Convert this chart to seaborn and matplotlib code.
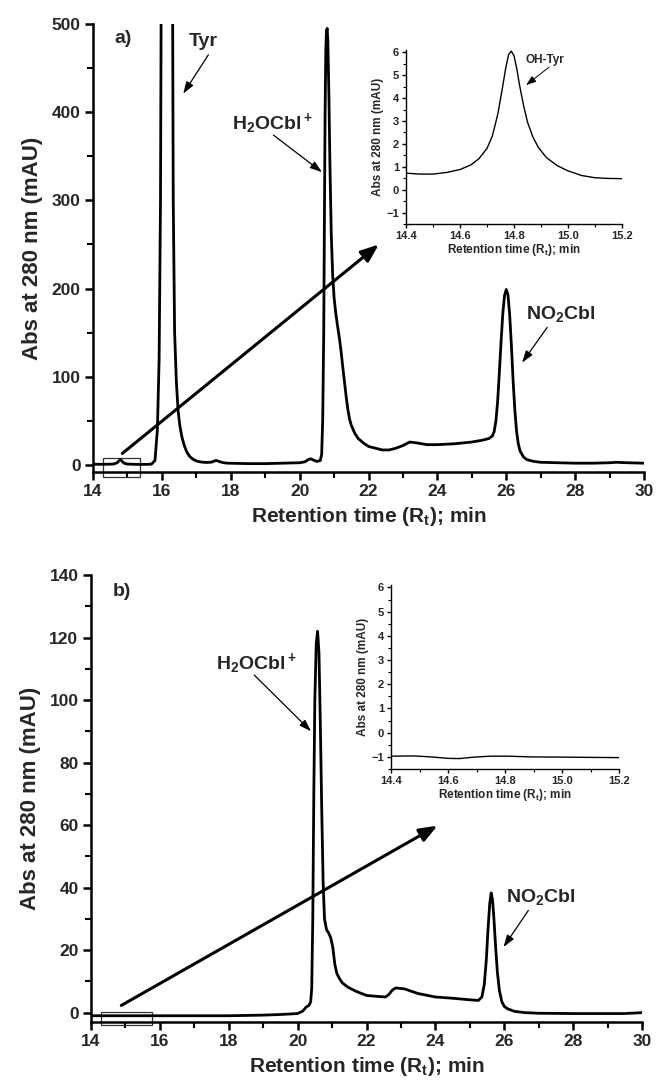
import numpy as np
import pandas as pd
import matplotlib
matplotlib.use("Agg")
import matplotlib.pyplot as plt
import seaborn as sns
from matplotlib.patches import Rectangle

# ---------------- data ----------------
t_a = [14.0, 14.3, 14.6, 14.7, 14.75, 14.8, 14.85, 14.9, 15.0, 15.3, 15.6, 15.7, 15.8, 15.87, 15.92, 15.96,
       16.15, 16.33, 16.37, 16.42, 16.47, 16.52, 16.58, 16.65, 16.72, 16.8, 16.9, 17.0, 17.15, 17.3,
       17.45, 17.52, 17.58, 17.65, 17.75, 17.9, 18.5, 19.0, 19.5, 20.0, 20.15, 20.25, 20.32, 20.4, 20.5,
       20.6, 20.64, 20.67, 20.7, 20.72, 20.74, 20.76, 20.78, 20.8, 20.82, 20.85, 20.88, 20.92, 20.96,
       21.0, 21.05, 21.1, 21.15, 21.2, 21.25, 21.3, 21.35, 21.4, 21.45, 21.5, 21.6, 21.7, 21.85, 22.0,
       22.2, 22.4, 22.6, 22.8, 23.0, 23.2, 23.4, 23.7, 24.0, 24.5, 25.0, 25.3, 25.5, 25.6, 25.65, 25.7,
       25.75, 25.8, 25.85, 25.9, 25.95, 26.0, 26.05, 26.1, 26.15, 26.2, 26.25, 26.3, 26.35, 26.4, 26.5,
       26.6, 26.8, 27.0, 27.5, 28.0, 28.5, 29.0, 29.2, 29.5, 30.0]
abs_a = [0.8, 0.7, 1.0, 2.5, 4.5, 6.0, 4.0, 2.0, 1.0, 0.6, 0.7, 1.0, 5.0, 40, 120, 300,
         2500, 300, 150, 95, 62, 45, 32, 22, 15, 10, 6.5, 4.5, 3.2, 2.8,
         3.2, 4.5, 5.0, 4.2, 2.8, 2.0, 1.5, 1.5, 2.0, 2.5, 3.5, 6.0, 7.0, 5.5, 4.0,
         5.0, 12, 50, 150, 280, 400, 470, 492, 495, 480, 420, 340, 260, 215,
         190, 172, 158, 145, 130, 112, 95, 78, 63, 52, 45, 36, 30, 25, 21,
         19, 17, 17, 19, 22, 26, 25, 23, 23, 24, 26, 28, 30, 33, 38, 50,
         72, 105, 140, 172, 192, 199, 193, 170, 135, 95, 62, 38, 24, 16, 9,
         6, 4, 3, 2.5, 2, 2, 2.5, 3, 2.5, 2]

t_b = [14.0, 15.0, 16.0, 17.0, 18.0, 19.0, 19.5, 20.0, 20.15, 20.25, 20.33, 20.38, 20.41, 20.44, 20.47,
       20.5, 20.54, 20.58, 20.62, 20.66, 20.7, 20.74, 20.78, 20.84, 20.9, 20.96, 21.02, 21.08, 21.14,
       21.22, 21.3, 21.45, 21.7, 22.0, 22.3, 22.55, 22.65, 22.75, 22.85, 23.1, 23.5, 24.0, 24.5, 25.0,
       25.25, 25.35, 25.42, 25.48, 25.53, 25.58, 25.62, 25.66, 25.7, 25.75, 25.8, 25.86, 25.93, 26.0,
       26.1, 26.3, 26.6, 27.0, 28.0, 29.0, 29.5, 30.0]
abs_b = [-1.0, -1.0, -1.0, -1.0, -1.0, -0.8, -0.6, -0.3, 0.5, 1.8, 2.3, 3.5, 8, 30, 70,
         100, 118, 122, 115, 92, 65, 42, 30, 26.5, 25.5, 24, 21, 15.5, 12.5,
         10.8, 9.5, 8.2, 6.8, 5.5, 5.2, 5.0, 5.8, 7.2, 7.9, 7.6, 6.1, 5.0, 4.6, 4.1,
         3.9, 5.0, 9, 17, 27, 35, 38.3, 36, 30, 21, 13, 7, 3.5, 2.0,
         1.2, 0.4, 0.0, -0.2, -0.3, -0.3, -0.3, 0.0]

t_ia = [14.4, 14.45, 14.5, 14.55, 14.6, 14.64, 14.67, 14.7, 14.72, 14.74, 14.755, 14.77, 14.78, 14.79,
        14.8, 14.81, 14.82, 14.835, 14.85, 14.87, 14.89, 14.92, 14.96, 15.0, 15.05, 15.1, 15.15, 15.2]
abs_ia = [0.72, 0.68, 0.68, 0.75, 0.88, 1.08, 1.35, 1.8, 2.35, 3.3, 4.3, 5.35, 5.9, 6.05,
          5.85, 5.3, 4.6, 3.7, 2.95, 2.3, 1.85, 1.4, 1.05, 0.82, 0.62, 0.52, 0.49, 0.48]

t_ib = [14.4, 14.48, 14.54, 14.6, 14.64, 14.69, 14.75, 14.81, 14.89, 15.0, 15.2]
abs_ib = [-0.97, -0.96, -1.0, -1.06, -1.07, -1.01, -0.97, -0.97, -1.0, -1.01, -1.03]

main_xticks = [14, 16, 18, 20, 22, 24, 26, 28, 30]
inset_xticks = [14.4, 14.6, 14.8, 15.0, 15.2]
inset_yticks = [-1, 0, 1, 2, 3, 4, 5, 6]

# ---------------- style ----------------
sns.set_theme(style="ticks")
FONT = ["Liberation Sans", "DejaVu Sans"]
plt.rcParams["font.family"] = FONT
plt.rcParams["font.weight"] = "bold"
plt.rcParams["mathtext.fontset"] = "custom"
plt.rcParams["mathtext.rm"] = "Liberation Sans:bold"
plt.rcParams["mathtext.it"] = "Liberation Sans:bold"
plt.rcParams["mathtext.bf"] = "Liberation Sans:bold"
plt.rcParams["mathtext.default"] = "bf"

W, H = 657, 1084
fig = plt.figure(figsize=(W / 100, H / 100), dpi=100)


def frac(l, r, t, b):
    return [l / W, 1 - b / H, (r - l) / W, (b - t) / H]


def style_main(ax, ylim, ymajor, yminor):
    ax.set_xlim(14, 30)
    ax.set_ylim(*ylim)
    ax.set_xticks(main_xticks)
    ax.set_xticks(np.arange(15, 30, 2), minor=True)
    ax.set_yticks(ymajor)
    ax.set_yticks(yminor, minor=True)
    for s in ["top", "right"]:
        ax.spines[s].set_visible(False)
    for s in ["left", "bottom"]:
        ax.spines[s].set_linewidth(1.8)
        ax.spines[s].set_color("black")
    ax.tick_params(which="major", length=6, width=1.8, direction="out", labelsize=12.5, pad=3, color="black")
    ax.tick_params(which="minor", length=4, width=1.5, direction="out", color="black")
    for lab in ax.get_xticklabels() + ax.get_yticklabels():
        lab.set_fontweight("bold")
    ax.set_xlabel("Retention time (R$_t$); min", fontsize=15, fontweight="bold", labelpad=4)
    ax.set_ylabel("Abs at 280 nm (mAU)", fontsize=16, fontweight="bold", labelpad=6)
    ax.set_facecolor("none")


def style_inset(ax, ticks):
    ax.set_xlim(14.4, 15.2)
    ax.set_ylim(-1.5, 6.1)
    ax.set_xticks(ticks)
    ax.set_xticks(np.arange(14.5, 15.2, 0.2), minor=True)
    ax.set_yticks(inset_yticks)
    ax.set_yticks(np.arange(-1.5, 6.0, 1.0), minor=True)
    ax.set_xticklabels([f"{v:.1f}" for v in ticks])
    for s in ["top", "right"]:
        ax.spines[s].set_visible(False)
    for s in ["left", "bottom"]:
        ax.spines[s].set_linewidth(1.0)
        ax.spines[s].set_color("black")
    ax.tick_params(which="major", length=3, width=1.0, direction="out", labelsize=8, pad=2, color="black")
    ax.tick_params(which="minor", length=2, width=0.8, direction="out", color="black")
    for lab in ax.get_xticklabels() + ax.get_yticklabels():
        lab.set_fontweight("bold")
    ax.set_xlabel("Retention time (R$_t$); min", fontsize=8.5, fontweight="bold", labelpad=1)
    ax.set_ylabel("Abs at 280 nm (mAU)", fontsize=8.5, fontweight="bold", labelpad=2)
    ax.set_facecolor("none")


big_arrow = dict(arrowstyle="-|>,head_length=0.9,head_width=0.35", lw=2.2, color="black", shrinkA=0, shrinkB=0)
small_arrow = dict(arrowstyle="-|>,head_length=0.6,head_width=0.2", lw=0.9, color="black", shrinkA=0, shrinkB=0)

# ---------------- panel a ----------------
ax1 = fig.add_axes(frac(93, 644, 24, 472))
sns.lineplot(x=t_a, y=abs_a, ax=ax1, color="black", lw=2.0, sort=False, estimator=None)
style_main(ax1, (-8, 500), [0, 100, 200, 300, 400, 500], [50, 150, 250, 350, 450])
ax1.add_patch(Rectangle((14.28, -13.3), 1.09, 20.8, fill=False, lw=0.9, ec="#333333", clip_on=False))
ax1.annotate("", xy=(22.3, 250), xytext=(14.85, 13), arrowprops=big_arrow)
ax1.text(14.62, 484, "a)", fontsize=14, fontweight="bold", va="center", ha="left")
ax1.text(17.2, 480, "Tyr", fontsize=14, fontweight="bold", va="center", ha="center")
ax1.annotate("", xy=(16.62, 421), xytext=(17.35, 465), arrowprops=small_arrow)
ax1.text(19.2, 387, r"H$_2$OCbl$^+$", fontsize=14, fontweight="bold", va="center", ha="center")
ax1.annotate("", xy=(20.65, 332), xytext=(19.24, 374), arrowprops=small_arrow)
ax1.text(27.58, 171, r"NO$_2$Cbl", fontsize=14, fontweight="bold", va="center", ha="center")
ax1.annotate("", xy=(26.46, 116), xytext=(27.19, 156), arrowprops=small_arrow)

ins1 = fig.add_axes(frac(406, 622, 50, 224))
sns.lineplot(x=t_ia, y=abs_ia, ax=ins1, color="black", lw=1.0, sort=False, estimator=None)
style_inset(ins1, inset_xticks)
ins1.text(14.915, 5.65, "OH-Tyr", fontsize=8.5, fontweight="bold", va="center", ha="center")
ins1.annotate("", xy=(14.845, 4.57), xytext=(14.93, 5.35),
              arrowprops=dict(arrowstyle="-|>,head_length=0.5,head_width=0.18", lw=0.7, color="black",
                              shrinkA=0, shrinkB=0))

# ---------------- panel b ----------------
ax2 = fig.add_axes(frac(91, 642, 575, 1022))
sns.lineplot(x=t_b, y=abs_b, ax=ax2, color="black", lw=2.0, sort=False, estimator=None)
style_main(ax2, (-3, 140), [0, 20, 40, 60, 80, 100, 120, 140], np.arange(10, 140, 20))
ax2.add_patch(Rectangle((14.28, -4.1), 1.48, 4.35, fill=False, lw=0.9, ec="#333333", clip_on=False))
ax2.annotate("", xy=(24.06, 59.8), xytext=(14.88, 2.3), arrowprops=big_arrow)
ax2.text(14.62, 134.6, "b)", fontsize=14, fontweight="bold", va="center", ha="left")
ax2.text(18.8, 111.6, r"H$_2$OCbl$^+$", fontsize=14, fontweight="bold", va="center", ha="center")
ax2.annotate("", xy=(20.39, 90), xytext=(18.74, 108), arrowprops=small_arrow)
ax2.text(27.05, 37, r"NO$_2$Cbl", fontsize=14, fontweight="bold", va="center", ha="center")
ax2.annotate("", xy=(25.98, 21), xytext=(26.7, 32.7), arrowprops=small_arrow)

ins2 = fig.add_axes(frac(391, 619, 585, 769))
sns.lineplot(x=t_ib, y=abs_ib, ax=ins2, color="black", lw=1.0, sort=False, estimator=None)
style_inset(ins2, inset_xticks)

fig.savefig("out.png", dpi=100, facecolor="white")
